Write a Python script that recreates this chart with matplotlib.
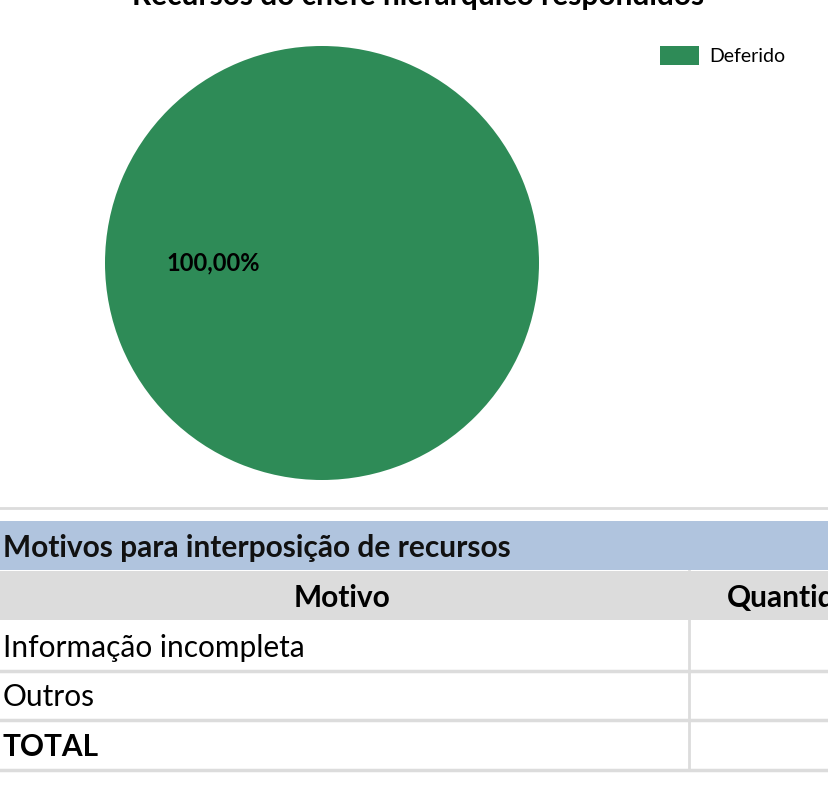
import matplotlib
matplotlib.use("Agg")
import matplotlib.pyplot as plt
from matplotlib.patches import Rectangle, Patch

plt.rcParams['font.family'] = ['Lato', 'DejaVu Sans']

W, H = 829, 788
title = "Recursos do chefe hierárquico respondidos"
pie_labels = ["Deferido"]
pie_values = [100.0]
pie_colors = ["#2E8B57"]

table_title = "Motivos para interposição de recursos"
col_headers = ["Motivo", "Quantidade"]
row_labels = ["Informação incompleta", "Outros", "TOTAL"]
row_bold = [False, False, True]

fig = plt.figure(figsize=(W / 100, H / 100), dpi=100)
fig.patch.set_facecolor("white")

# Pie axes: center (322,263) px, radius 217 px
cx, cy, r = 322, 263, 217
ax = fig.add_axes([(cx - r) / W, 1 - (cy + r) / H, 2 * r / W, 2 * r / H])
wedges, texts, autotexts = ax.pie(
    pie_values, colors=pie_colors, startangle=0, pctdistance=0.5,
    autopct=lambda p: f"{p:.2f}%".replace(".", ","),
    textprops=dict(fontsize=17, fontweight="bold", color="black"),
    wedgeprops=dict(linewidth=0))
ax.set_aspect("equal")
ax.set_xlim(-1, 1)
ax.set_ylim(-1, 1)
ax.axis("off")

fig.text(418 / W, 1 - 5 / H, title, ha="center", va="baseline",
         fontsize=21.5, fontweight="bold", color="black")

fig.legend(handles=[Patch(facecolor=c, label=l) for c, l in zip(pie_colors, pie_labels)],
           loc="upper left", bbox_to_anchor=(660 / W, 1 - 46 / H), frameon=False,
           borderpad=0, borderaxespad=0,
           fontsize=14, handlelength=2.0, handleheight=1.1, handletextpad=0.55)

# Table overlay in pixel coordinates
tx = fig.add_axes([0, 0, 1, 1], facecolor="none")
tx.set_xlim(0, W)
tx.set_ylim(H, 0)
tx.axis("off")

# separator line
tx.plot([0, W], [508, 508], color="#DCDCDC", lw=2)

tx.add_patch(Rectangle((0, 521), W, 49, facecolor="#B0C4DE", edgecolor="none"))
tx.text(3, 548, table_title, ha="left", va="center", fontsize=21.5, fontweight="bold", color="#111111")

tx.add_patch(Rectangle((0, 571), W, 49, facecolor="#DCDCDC", edgecolor="none"))
tx.text(342, 598, col_headers[0], ha="center", va="center", fontsize=21.5, fontweight="bold")
tx.text(727, 598, col_headers[1], ha="left", va="center", fontsize=21.5, fontweight="bold")

row_h = 49.5
y0 = 621
for i, (lab, b) in enumerate(zip(row_labels, row_bold)):
    yc = y0 + row_h * i + row_h / 2 + 2
    tx.text(3, yc, lab, ha="left", va="center", fontsize=21.5,
            fontweight="bold" if b else "normal", color="black")
    tx.plot([0, W], [y0 + row_h * (i + 1), y0 + row_h * (i + 1)], color="#DCDCDC", lw=2.5)
tx.plot([689, 689], [571, y0 + row_h * 3], color="#DCDCDC", lw=2)

fig.savefig("out.png", dpi=100)
